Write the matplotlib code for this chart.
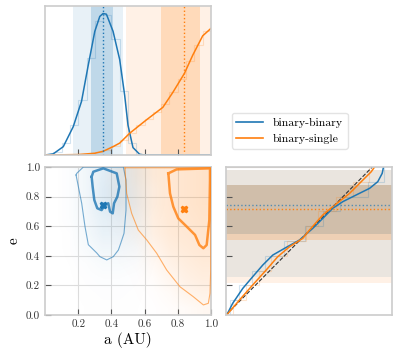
import matplotlib.pyplot as plt
import numpy as np
from matplotlib.colors import LinearSegmentedColormap

plt.rcParams['font.family'] = 'serif'
plt.rcParams['font.serif'] = ['cmr10']
plt.rcParams['mathtext.fontset'] = 'cm'
plt.rcParams['axes.formatter.use_mathtext'] = True

blue = '#1f77b4'
orange = '#ff7f0e'
labels = ['binary-binary', 'binary-single']

# --- marginal of a (smoothed curve, height scaled to panel) ---
bb_a = [0.0, 0.05, 0.11, 0.17, 0.22, 0.26, 0.30, 0.33, 0.35, 0.37, 0.41, 0.45, 0.48, 0.50, 0.53, 0.57, 0.60, 1.0]
bb_pdf = [0.0, 0.008, 0.056, 0.19, 0.36, 0.60, 0.83, 0.93, 0.95, 0.945, 0.83, 0.64, 0.40, 0.20, 0.05, 0.005, 0.0, 0.0]
bs_a = [0.0, 0.20, 0.30, 0.35, 0.41, 0.45, 0.51, 0.61, 0.71, 0.77, 0.84, 0.89, 0.95, 1.0]
bs_pdf = [0.0, 0.003, 0.012, 0.025, 0.056, 0.08, 0.146, 0.235, 0.32, 0.42, 0.548, 0.67, 0.80, 0.85]

# histogram behind the curves (20 bins in a)
a_edges = np.linspace(0, 1, 21)
bb_hist_a = [0, 0.02, 0.08, 0.20, 0.37, 0.65, 0.90, 0.94, 0.78, 0.43, 0.08, 0, 0, 0, 0, 0, 0, 0, 0, 0]
bs_hist_a = [0, 0, 0, 0, 0, 0, 0.018, 0.035, 0.06, 0.10, 0.15, 0.20, 0.245, 0.29, 0.34, 0.42, 0.51, 0.63, 0.74, 0.83]

# medians, 68% and 95% intervals
bb_a_med, bb_a_68, bb_a_95 = 0.347, (0.279, 0.408), (0.171, 0.468)
bs_a_med, bs_a_68, bs_a_95 = 0.839, (0.700, 0.934), (0.488, 1.0)
bb_e_med, bb_e_68, bb_e_95 = 0.743, (0.547, 0.878), (0.257, 0.98)
bs_e_med, bs_e_68, bs_e_95 = 0.716, (0.507, 0.878), (0.214, 0.98)

# --- joint a-e: point density read on a 10x10 grid (rows e, cols a) ---
bb_density = [
    [0, 0.01, 0.03, 0.04, 0.04, 0.03, 0.01, 0, 0, 0],
    [0, 0.02, 0.04, 0.06, 0.06, 0.04, 0.01, 0, 0, 0],
    [0, 0.02, 0.06, 0.10, 0.10, 0.06, 0.02, 0, 0, 0],
    [0, 0.03, 0.10, 0.20, 0.20, 0.15, 0.03, 0, 0, 0],
    [0, 0.05, 0.20, 0.40, 0.40, 0.30, 0.05, 0, 0, 0],
    [0, 0.05, 0.30, 0.60, 0.60, 0.40, 0.05, 0, 0, 0],
    [0, 0.10, 0.35, 0.70, 0.80, 0.50, 0.05, 0, 0, 0],
    [0, 0.10, 0.40, 0.90, 1.00, 0.60, 0.10, 0, 0, 0],
    [0, 0.10, 0.40, 0.90, 1.00, 0.60, 0.10, 0, 0, 0],
    [0, 0.10, 0.40, 0.80, 0.90, 0.60, 0.10, 0, 0, 0],
]
bs_density = [
    [0, 0, 0, 0, 0, 0.01, 0.03, 0.08, 0.15, 0.25],
    [0, 0, 0, 0, 0, 0.02, 0.05, 0.15, 0.35, 0.45],
    [0, 0, 0, 0, 0, 0.03, 0.10, 0.30, 0.50, 0.60],
    [0, 0, 0, 0, 0.02, 0.05, 0.20, 0.45, 0.60, 0.70],
    [0, 0, 0, 0, 0.03, 0.10, 0.35, 0.60, 0.70, 0.80],
    [0, 0, 0, 0, 0.05, 0.25, 0.50, 0.70, 0.80, 0.90],
    [0, 0, 0, 0, 0.10, 0.35, 0.55, 0.75, 0.85, 0.95],
    [0, 0, 0, 0, 0.20, 0.45, 0.60, 0.80, 0.90, 1.00],
    [0, 0, 0, 0, 0.25, 0.50, 0.60, 0.80, 0.90, 1.00],
    [0, 0, 0, 0, 0.30, 0.60, 0.70, 0.80, 0.90, 1.00],
]

# contour outlines (a, e)
bb_outer_a = [0.187, 0.191, 0.231, 0.472, 0.488, 0.488, 0.476, 0.456, 0.442, 0.411, 0.372, 0.331, 0.311, 0.261, 0.241, 0.221, 0.201, 0.187]
bb_outer_e = [0.946, 0.957, 1.0, 1.0, 0.912, 0.709, 0.552, 0.484, 0.439, 0.394, 0.372, 0.394, 0.42, 0.475, 0.597, 0.755, 0.867, 0.946]
bb_inner_a = [0.281, 0.291, 0.351, 0.432, 0.448, 0.436, 0.416, 0.408, 0.392, 0.381, 0.361, 0.341, 0.315, 0.297, 0.287, 0.281]
bb_inner_e = [0.934, 0.968, 0.991, 0.957, 0.867, 0.800, 0.755, 0.687, 0.698, 0.755, 0.743, 0.709, 0.721, 0.777, 0.867, 0.934]
bs_outer_a = [0.482, 0.484, 0.492, 0.522, 0.562, 0.613, 0.673, 0.733, 0.813, 0.893, 0.954, 0.984, 0.994, 0.998, 0.998, 0.482]
bs_outer_e = [0.995, 0.95, 0.822, 0.687, 0.574, 0.507, 0.417, 0.304, 0.191, 0.124, 0.068, 0.079, 0.147, 0.30, 0.995, 0.995]
bs_inner_a = [0.743, 0.793, 0.994, 0.994, 0.990, 0.974, 0.954, 0.930, 0.904, 0.854, 0.803, 0.773, 0.753, 0.743]
bs_inner_e = [0.957, 0.984, 0.991, 0.912, 0.642, 0.473, 0.451, 0.473, 0.541, 0.597, 0.653, 0.732, 0.822, 0.957]

# --- right panel: cumulative curves vs e ---
bb_cdf_e = [0.0, 0.079, 0.18, 0.259, 0.338, 0.405, 0.457, 0.507, 0.586, 0.653, 0.721, 0.766, 0.811, 0.856, 0.901, 0.957, 1.0]
bb_cdf_x = [0.005, 0.046, 0.115, 0.183, 0.252, 0.32, 0.412, 0.503, 0.594, 0.662, 0.73, 0.799, 0.89, 0.982, 1.038, 1.068, 1.077]
bs_cdf_e = [0.0, 0.101, 0.203, 0.304, 0.394, 0.461, 0.518, 0.574, 0.676, 0.732, 0.822, 0.912, 0.968, 1.0]
bs_cdf_x = [0.005, 0.092, 0.183, 0.275, 0.354, 0.434, 0.525, 0.571, 0.662, 0.73, 0.845, 0.936, 0.993, 1.016]
e_edges = np.linspace(0, 1, 11)
bb_hist_e = [0.03, 0.09, 0.175, 0.27, 0.40, 0.54, 0.66, 0.78, 0.97, 1.08]
bs_hist_e = [0.045, 0.135, 0.225, 0.31, 0.42, 0.55, 0.63, 0.75, 0.87, 0.98]

fig = plt.figure(figsize=(3.99, 3.54), dpi=100)
ax_top = fig.add_axes([0.1128, 0.5621, 0.416, 0.4209])
ax_main = fig.add_axes([0.1128, 0.1102, 0.416, 0.418])
ax_right = fig.add_axes([0.5664, 0.1102, 0.416, 0.418])

spine_col = '#cccccc'
for ax in (ax_top, ax_main, ax_right):
    for sp in ax.spines.values():
        sp.set_color(spine_col)
        sp.set_linewidth(1.2)
    ax.tick_params(direction='in', length=4, width=0.8, color='#555555',
                   labelsize=8, labelcolor='#333333')

# top panel
ax_top.axvspan(*bb_a_95, color=blue, alpha=0.1, lw=0)
ax_top.axvspan(*bb_a_68, color=blue, alpha=0.2, lw=0)
ax_top.axvspan(*bs_a_95, color=orange, alpha=0.1, lw=0)
ax_top.axvspan(*bs_a_68, color=orange, alpha=0.2, lw=0)
ax_top.stairs(bb_hist_a, a_edges, color=blue, alpha=0.2, lw=0.8)
ax_top.stairs(bs_hist_a, a_edges, color=orange, alpha=0.2, lw=0.8)
ax_top.plot(bb_a, bb_pdf, color=blue, lw=1.1)
ax_top.plot(bs_a, bs_pdf, color=orange, lw=1.1)
ax_top.axvline(bb_a_med, color=blue, ls=':', lw=1)
ax_top.axvline(bs_a_med, color=orange, ls=':', lw=1)
ax_top.set_xlim(0, 1)
ax_top.set_ylim(0, 1)
ax_top.set_xticks([0.2, 0.4, 0.6, 0.8])
ax_top.set_xticklabels([])
ax_top.set_yticks([])

# joint panel
cm_b = LinearSegmentedColormap.from_list('b', [(0.12, 0.47, 0.71, 0.0), (0.12, 0.47, 0.71, 0.16)])
cm_o = LinearSegmentedColormap.from_list('o', [(1.0, 0.5, 0.05, 0.0), (1.0, 0.5, 0.05, 0.22)])
ax_main.imshow(bs_density, origin='lower', extent=(0, 1, 0, 1), cmap=cm_o,
               interpolation='bilinear', aspect='auto', vmin=0, vmax=1, zorder=1)
ax_main.imshow(bb_density, origin='lower', extent=(0, 1, 0, 1), cmap=cm_b,
               interpolation='bilinear', aspect='auto', vmin=0, vmax=1, zorder=1)
ax_main.grid(True, color='#dddddd', lw=0.8, zorder=0)
ax_main.set_axisbelow(True)
ax_main.plot(bb_outer_a, bb_outer_e, color=blue, lw=0.8, alpha=0.6, zorder=3)
ax_main.plot(bb_inner_a, bb_inner_e, color=blue, lw=1.8, alpha=0.8, zorder=3)
ax_main.plot(bs_outer_a, bs_outer_e, color=orange, lw=0.8, alpha=0.6, zorder=3)
ax_main.plot(bs_inner_a, bs_inner_e, color=orange, lw=1.8, alpha=0.8, zorder=3)
ax_main.plot(bb_a_med, bb_e_med, 'X', color=blue, ms=5, zorder=4)
ax_main.plot(bs_a_med, bs_e_med, 'X', color=orange, ms=5, zorder=4)
ax_main.set_xlim(0, 1)
ax_main.set_ylim(0, 1)
ax_main.set_xticks([0.2, 0.4, 0.6, 0.8, 1.0])
ax_main.set_xticklabels(['0.2', '0.4', '0.6', '0.8', '1.0'])
ax_main.set_yticks([0.0, 0.2, 0.4, 0.6, 0.8, 1.0])
ax_main.set_yticklabels(['0.0', '0.2', '0.4', '0.6', '0.8', '1.0'])
ax_main.set_xlabel('a (AU)', fontsize=11, labelpad=2)
ax_main.set_ylabel('e', fontsize=11, labelpad=4)

# right panel
ax_right.axhspan(*bb_e_95, color=blue, alpha=0.1, lw=0)
ax_right.axhspan(*bb_e_68, color=blue, alpha=0.2, lw=0)
ax_right.axhspan(*bs_e_95, color=orange, alpha=0.1, lw=0)
ax_right.axhspan(*bs_e_68, color=orange, alpha=0.2, lw=0)
ax_right.stairs(bb_hist_e, e_edges, orientation='horizontal', color=blue, alpha=0.2, lw=0.8)
ax_right.stairs(bs_hist_e, e_edges, orientation='horizontal', color=orange, alpha=0.2, lw=0.8)
ax_right.plot([0, 1], [0, 1], color='#333333', ls='--', lw=0.8)
ax_right.plot(bb_cdf_x, bb_cdf_e, color=blue, lw=1.1)
ax_right.plot(bs_cdf_x, bs_cdf_e, color=orange, lw=1.1)
ax_right.axhline(bb_e_med, color=blue, ls=':', lw=1, alpha=0.7)
ax_right.axhline(bs_e_med, color=orange, ls=':', lw=1)
ax_right.set_xlim(0, 1.135)
ax_right.set_ylim(0, 1)
ax_right.set_xticks([])
ax_right.set_yticks([0.2, 0.4, 0.6, 0.8])
ax_right.set_yticklabels([])

handles = [plt.Line2D([], [], color=blue, lw=1.2), plt.Line2D([], [], color=orange, lw=1.2)]
fig.legend(handles, labels, loc='center', bbox_to_anchor=(0.726, 0.631), fontsize=8.5,
           handlelength=2.3, frameon=True, edgecolor='#dddddd', fancybox=True)

fig.savefig('out.png', dpi=100)
